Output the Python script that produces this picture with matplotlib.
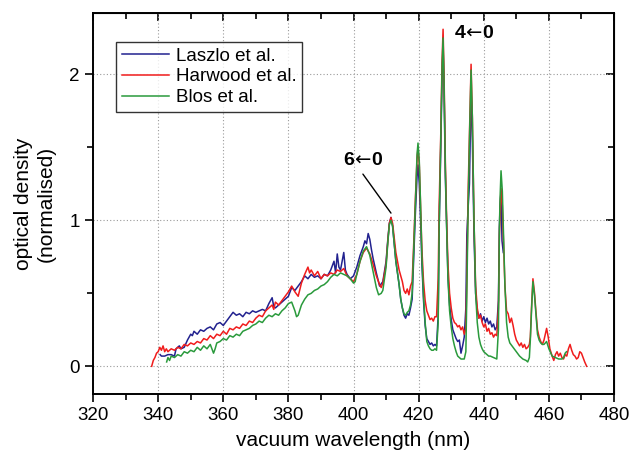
import matplotlib
matplotlib.use("Agg")
import matplotlib.pyplot as plt
from matplotlib.ticker import MultipleLocator

# ── Spectra (vacuum wavelength in nm, normalised optical density) ────────────
laszlo_wl = [
    340.6, 341.0, 342.0, 343.0, 344.0, 345.0, 345.5, 346.0, 346.5, 347.0,
    348.0, 349.0, 350.0, 350.5, 351.0, 352.0, 353.0, 354.0, 355.0, 356.0,
    357.0, 358.0, 359.0, 360.0, 361.0, 362.0, 363.0, 364.0, 365.0, 366.0,
    367.0, 368.0, 369.0, 370.0, 371.0, 372.0, 373.0, 374.0, 375.0, 375.5,
    376.0, 377.0, 378.0, 379.0, 380.0, 381.0, 382.0, 383.0, 384.0, 385.0,
    386.0, 387.0, 388.0, 389.0, 390.0, 391.0, 392.0, 393.0, 394.0, 394.5,
    395.0, 395.5, 396.0, 397.0, 397.5, 398.0, 399.0, 400.0, 401.0, 402.0,
    403.0, 403.5, 404.0, 404.5, 405.0, 405.5, 406.0, 407.0, 408.0, 409.0,
    410.0, 410.5, 411.0, 411.5, 412.0, 412.5, 413.0, 414.0, 414.5, 415.0,
    415.5, 416.0, 416.5, 417.0, 417.5, 418.0, 418.5, 419.0, 419.5, 419.8,
    420.2, 420.6, 421.0, 421.5, 422.0, 422.5, 423.0, 423.5, 424.0, 424.5,
    425.0, 425.5, 426.0, 426.3, 426.8, 427.2, 427.5, 427.8, 428.2, 428.6,
    429.0, 429.5, 430.0, 430.5, 431.0, 431.5, 432.0, 432.5, 433.0, 433.5,
    434.0, 434.5, 434.8, 435.2, 435.6, 436.1, 436.5, 437.0, 437.5, 438.0,
    438.5, 439.0, 439.5, 440.0, 440.5, 441.0, 441.5, 442.0, 442.5, 443.0,
    443.5, 444.0, 444.5, 444.8, 445.0, 445.3, 445.6, 446.0,
]
laszlo_od = [
    0.08, 0.07, 0.07, 0.08, 0.08, 0.07, 0.12, 0.13, 0.14, 0.12,
    0.13, 0.18, 0.22, 0.21, 0.24, 0.22, 0.25, 0.24, 0.26, 0.27,
    0.25, 0.29, 0.30, 0.28, 0.31, 0.34, 0.37, 0.35, 0.36, 0.34,
    0.37, 0.36, 0.38, 0.37, 0.38, 0.39, 0.38, 0.43, 0.47, 0.41,
    0.40, 0.42, 0.44, 0.46, 0.48, 0.54, 0.52, 0.55, 0.58, 0.62,
    0.60, 0.63, 0.61, 0.62, 0.60, 0.63, 0.62, 0.66, 0.72, 0.64,
    0.77, 0.68, 0.66, 0.78, 0.66, 0.63, 0.60, 0.62, 0.68, 0.76,
    0.82, 0.86, 0.84, 0.91, 0.87, 0.80, 0.74, 0.64, 0.55, 0.58,
    0.72, 0.86, 0.98, 1.02, 0.96, 0.84, 0.72, 0.56, 0.46, 0.40,
    0.35, 0.33, 0.36, 0.35, 0.40, 0.46, 0.75, 1.05, 1.30, 1.38,
    1.25, 1.00, 0.70, 0.45, 0.28, 0.19, 0.17, 0.15, 0.16, 0.14,
    0.15, 0.14, 0.35, 0.95, 1.50, 2.00, 2.20, 1.90, 1.30, 0.95,
    0.62, 0.42, 0.32, 0.25, 0.22, 0.19, 0.17, 0.18, 0.09, 0.14,
    0.20, 0.40, 0.90, 1.09, 1.25, 1.90, 1.55, 0.90, 0.50, 0.38,
    0.33, 0.36, 0.31, 0.34, 0.30, 0.33, 0.29, 0.31, 0.27, 0.29,
    0.25, 0.27, 0.45, 0.95, 1.10, 1.20, 0.86, 0.78,
]

harwood_wl = [
    338.0, 338.5, 339.0, 339.5, 340.0, 340.5, 341.0, 341.5, 342.0, 342.5,
    343.0, 344.0, 345.0, 346.0, 347.0, 348.0, 349.0, 350.0, 351.0, 352.0,
    353.0, 354.0, 355.0, 356.0, 357.0, 358.0, 359.0, 360.0, 361.0, 362.0,
    363.0, 364.0, 365.0, 366.0, 367.0, 368.0, 369.0, 370.0, 371.0, 372.0,
    373.0, 374.0, 375.0, 375.5, 376.0, 377.0, 378.0, 379.0, 380.0, 381.0,
    382.0, 383.0, 384.0, 385.0, 386.0, 386.5, 387.0, 388.0, 389.0, 390.0,
    391.0, 392.0, 393.0, 394.0, 395.0, 396.0, 397.0, 398.0, 399.0, 400.0,
    401.0, 402.0, 403.0, 404.0, 405.0, 406.0, 407.0, 408.0, 408.5, 409.0,
    410.0, 410.5, 411.0, 411.5, 412.0, 412.5, 413.0, 414.0, 415.0, 415.5,
    416.0, 416.5, 417.0, 417.5, 418.0, 418.5, 419.0, 419.5, 419.8, 420.2,
    420.6, 421.0, 421.5, 422.0, 422.5, 423.0, 423.5, 424.0, 424.5, 425.0,
    425.5, 426.0, 426.3, 426.8, 427.2, 427.5, 427.8, 428.2, 428.6, 429.0,
    429.5, 430.0, 430.5, 431.0, 431.5, 432.0, 432.5, 433.0, 433.5, 434.0,
    434.5, 434.8, 435.2, 435.7, 436.1, 436.5, 437.0, 437.5, 438.0, 438.5,
    439.0, 439.5, 440.0, 440.5, 441.0, 441.5, 442.0, 442.5, 443.0, 443.5,
    444.0, 444.5, 444.8, 445.0, 445.3, 445.7, 446.0, 446.5, 447.0, 447.5,
    448.0, 448.5, 449.0, 449.5, 450.0, 450.5, 451.0, 451.5, 452.0, 452.5,
    453.0, 453.5, 454.0, 454.3, 454.7, 455.1, 455.6, 456.0, 456.5, 457.0,
    457.5, 458.0, 458.5, 459.3, 459.8, 460.3, 461.0, 461.5, 462.0, 462.5,
    463.0, 463.5, 464.0, 464.5, 465.0, 465.5, 466.0, 466.5, 467.0, 467.5,
    468.0, 468.5, 469.0, 469.5, 470.0, 470.5, 471.0, 471.6,
]
harwood_od = [
    0.00, 0.04, 0.06, 0.09, 0.10, 0.13, 0.11, 0.14, 0.10, 0.12,
    0.10, 0.12, 0.11, 0.13, 0.12, 0.15, 0.14, 0.16, 0.15, 0.17,
    0.16, 0.19, 0.18, 0.21, 0.19, 0.22, 0.21, 0.24, 0.22, 0.26,
    0.25, 0.27, 0.26, 0.29, 0.28, 0.31, 0.30, 0.33, 0.35, 0.34,
    0.38, 0.40, 0.42, 0.39, 0.44, 0.42, 0.45, 0.48, 0.51, 0.55,
    0.51, 0.48, 0.57, 0.63, 0.68, 0.64, 0.66, 0.62, 0.65, 0.60,
    0.63, 0.62, 0.64, 0.63, 0.66, 0.65, 0.67, 0.62, 0.60, 0.58,
    0.63, 0.72, 0.78, 0.81, 0.77, 0.70, 0.62, 0.56, 0.54, 0.57,
    0.70, 0.85, 0.98, 1.02, 0.98, 0.88, 0.78, 0.66, 0.58, 0.52,
    0.50, 0.53, 0.49, 0.55, 0.58, 0.85, 1.15, 1.42, 1.50, 1.38,
    1.10, 0.80, 0.58, 0.45, 0.38, 0.35, 0.32, 0.33, 0.31, 0.34,
    0.34, 0.60, 1.10, 1.60, 2.10, 2.31, 2.00, 1.40, 1.00, 0.70,
    0.50, 0.40, 0.33, 0.30, 0.29, 0.27, 0.28, 0.25, 0.27, 0.22,
    0.26, 0.60, 1.20, 1.70, 2.07, 1.70, 1.00, 0.55, 0.40, 0.33,
    0.35, 0.30, 0.27, 0.29, 0.24, 0.26, 0.22, 0.23, 0.20, 0.22,
    0.21, 0.40, 0.90, 1.05, 1.22, 1.10, 0.90, 0.55, 0.38, 0.36,
    0.30, 0.33, 0.28, 0.22, 0.18, 0.16, 0.14, 0.16, 0.13, 0.15,
    0.12, 0.13, 0.15, 0.20, 0.42, 0.60, 0.50, 0.38, 0.25, 0.20,
    0.17, 0.15, 0.18, 0.26, 0.20, 0.12, 0.07, 0.04, 0.08, 0.10,
    0.07, 0.09, 0.06, 0.05, 0.08, 0.07, 0.12, 0.15, 0.11, 0.08,
    0.07, 0.05, 0.06, 0.10, 0.09, 0.06, 0.03, 0.00,
]

blos_wl = [
    342.6, 343.0, 343.5, 344.0, 345.0, 346.0, 347.0, 348.0, 349.0, 350.0,
    351.0, 352.0, 353.0, 354.0, 355.0, 356.0, 357.0, 357.5, 358.0, 359.0,
    360.0, 361.0, 362.0, 363.0, 364.0, 365.0, 366.0, 367.0, 368.0, 369.0,
    370.0, 371.0, 372.0, 373.0, 374.0, 375.0, 376.0, 377.0, 378.0, 379.0,
    380.0, 381.0, 382.0, 382.5, 383.0, 384.0, 385.0, 386.0, 387.0, 388.0,
    389.0, 390.0, 391.0, 392.0, 393.0, 394.0, 395.0, 396.0, 397.0, 398.0,
    399.0, 400.0, 400.5, 401.0, 402.0, 403.0, 404.0, 405.0, 406.0, 407.0,
    407.7, 408.5, 409.0, 410.0, 410.5, 411.0, 411.5, 412.0, 412.5, 413.0,
    414.0, 414.5, 415.0, 415.5, 416.0, 416.5, 417.0, 417.5, 418.0, 418.5,
    419.0, 419.5, 419.8, 420.2, 420.6, 421.0, 421.5, 422.0, 422.5, 423.0,
    423.5, 424.0, 424.5, 425.0, 425.5, 426.0, 426.3, 426.8, 427.2, 427.5,
    427.8, 428.2, 428.6, 429.0, 429.5, 430.0, 430.5, 431.0, 431.5, 432.0,
    432.5, 433.0, 433.5, 434.0, 434.5, 434.8, 435.2, 435.7, 436.1, 436.5,
    437.0, 437.5, 438.0, 438.5, 439.0, 439.5, 440.0, 440.5, 441.0, 441.5,
    442.0, 443.0, 444.0, 444.5, 444.8, 445.0, 445.3, 445.7, 446.0, 446.5,
    447.0, 447.5, 448.0, 449.0, 450.0, 451.0, 452.0, 453.0, 453.5, 454.0,
    454.3, 454.7, 455.1, 455.6, 456.0, 456.5, 457.0, 457.5, 458.0, 458.5,
    459.3, 460.0, 461.0, 462.0, 463.0, 464.0, 464.5, 465.0, 465.4,
]
blos_od = [
    0.03, 0.06, 0.04, 0.07, 0.06, 0.08, 0.07, 0.10, 0.09, 0.11,
    0.10, 0.13, 0.11, 0.14, 0.12, 0.15, 0.09, 0.12, 0.16, 0.17,
    0.19, 0.18, 0.21, 0.20, 0.22, 0.21, 0.24, 0.25, 0.26, 0.28,
    0.29, 0.31, 0.30, 0.33, 0.35, 0.34, 0.36, 0.35, 0.38, 0.40,
    0.43, 0.44, 0.38, 0.34, 0.35, 0.42, 0.46, 0.49, 0.50, 0.52,
    0.53, 0.55, 0.56, 0.58, 0.61, 0.63, 0.62, 0.64, 0.63, 0.62,
    0.60, 0.57, 0.58, 0.63, 0.72, 0.79, 0.82, 0.76, 0.65, 0.54,
    0.49, 0.50, 0.52, 0.68, 0.84, 0.97, 1.00, 0.96, 0.84, 0.72,
    0.56, 0.46, 0.40, 0.36, 0.35, 0.37, 0.38, 0.42, 0.50, 0.80,
    1.12, 1.45, 1.53, 1.40, 1.10, 0.75, 0.48, 0.30, 0.17, 0.14,
    0.12, 0.11, 0.11, 0.12, 0.11, 0.30, 0.95, 1.55, 2.05, 2.25,
    1.95, 1.35, 0.95, 0.60, 0.38, 0.27, 0.19, 0.14, 0.10, 0.07,
    0.06, 0.05, 0.05, 0.05, 0.10, 0.50, 1.10, 1.65, 2.03, 1.70,
    1.00, 0.50, 0.30, 0.20, 0.15, 0.12, 0.10, 0.09, 0.08, 0.07,
    0.07, 0.06, 0.05, 0.25, 0.95, 1.15, 1.34, 1.20, 0.95, 0.55,
    0.30, 0.20, 0.16, 0.13, 0.10, 0.07, 0.05, 0.04, 0.03, 0.06,
    0.18, 0.40, 0.58, 0.48, 0.36, 0.22, 0.18, 0.16, 0.15, 0.15,
    0.17, 0.12, 0.07, 0.06, 0.05, 0.05, 0.06, 0.09, 0.10,
]

series_labels = ["Laszlo et al.", "Harwood et al.", "Blos et al."]
series_colors = ["#22228f", "#f01c1c", "#2a9a3c"]
band_labels = [r"$\mathbf{4}\!\leftarrow\!\mathbf{0}$",
               r"$\mathbf{6}\!\leftarrow\!\mathbf{0}$"]

plt.rcParams["font.family"] = ["Liberation Sans", "DejaVu Sans"]
plt.rcParams["mathtext.fontset"] = "custom"
plt.rcParams["mathtext.rm"] = "DejaVu Sans"
plt.rcParams["mathtext.bf"] = "Liberation Sans:bold"
plt.rcParams["mathtext.fallback"] = "stixsans"

fig = plt.figure(figsize=(6.33, 4.55), dpi=100)
ax = fig.add_axes([0.147, 0.134, 0.823, 0.837])

spectra = [(laszlo_wl, laszlo_od), (harwood_wl, harwood_od), (blos_wl, blos_od)]
for (wl, od), lab, col in zip(spectra, series_labels, series_colors):
    ax.plot(wl, od, color=col, linewidth=1.1, label=lab)

ax.set_xlim(320, 480)
ax.set_ylim(-0.19, 2.42)
ax.xaxis.set_major_locator(MultipleLocator(20))
ax.xaxis.set_minor_locator(MultipleLocator(10))
ax.yaxis.set_major_locator(MultipleLocator(1))
ax.yaxis.set_minor_locator(MultipleLocator(0.5))
ax.tick_params(which="both", direction="out", labelsize=13.5, width=1.2)
ax.tick_params(which="major", length=6)
ax.tick_params(which="minor", length=4)
ax.grid(True, which="major", linestyle=(0, (1, 2)), color="#9a9a9a", linewidth=0.8)
for sp in ax.spines.values():
    sp.set_linewidth(1.4)

# mirrored ticks on the top/right pointing inwards
top = ax.secondary_xaxis("top")
top.xaxis.set_major_locator(MultipleLocator(20))
top.xaxis.set_minor_locator(MultipleLocator(10))
top.tick_params(which="both", direction="in", labeltop=False, width=1.2)
top.tick_params(which="major", length=6)
top.tick_params(which="minor", length=4)
right = ax.secondary_yaxis("right")
right.yaxis.set_major_locator(MultipleLocator(1))
right.yaxis.set_minor_locator(MultipleLocator(0.5))
right.tick_params(which="both", direction="in", labelright=False, width=1.2)
right.tick_params(which="major", length=6)
right.tick_params(which="minor", length=4)

ax.set_xlabel("vacuum wavelength (nm)", fontsize=15, labelpad=5)
ax.set_ylabel("optical density\n(normalised)", fontsize=15, labelpad=10,
              linespacing=1.25)

ax.text(430.8, 2.28, band_labels[0], fontsize=14, va="center", ha="left")
ax.annotate(band_labels[1], xy=(411.5, 1.05), xytext=(396.8, 1.41),
            fontsize=14, va="center", ha="left",
            arrowprops=dict(arrowstyle="-", color="black", linewidth=1.0,
                            shrinkA=2, shrinkB=0, relpos=(0.4, 0.0)))

leg = ax.legend(loc="upper left", bbox_to_anchor=(0.045, 0.925), fontsize=13.5,
                frameon=True, fancybox=False, edgecolor="black",
                handlelength=2.5, borderpad=0.3, labelspacing=0.2,
                handletextpad=0.35, borderaxespad=0.0)
leg.get_frame().set_linewidth(1.0)

fig.savefig("out.png", dpi=100)
